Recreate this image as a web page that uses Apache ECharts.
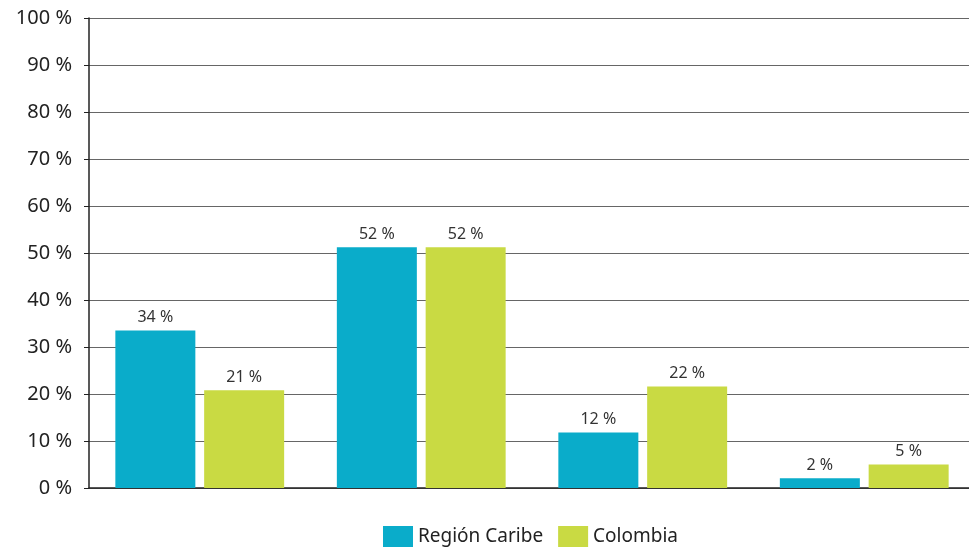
<!DOCTYPE html>
<html>
<head>
<meta charset="utf-8">
<script src="https://cdn.jsdelivr.net/npm/echarts@6/dist/echarts.min.js"></script>
<style>
html,body{margin:0;padding:0;background:#fff;}
#chart{width:969px;height:547px;}
</style>
</head>
<body>
<div id="chart"></div>
<script>
var categories = ['A', 'B', 'C', 'D'];
var caribeValues = [33.5, 51.2, 11.8, 2.1];
var colombiaValues = [20.8, 51.2, 21.6, 5.0];
var caribeLabels = ['34 %', '52 %', '12 %', '2 %'];
var colombiaLabels = ['21 %', '52 %', '22 %', '5 %'];
var yTicks = [0, 100, 10];

var chart = echarts.init(document.getElementById('chart'));
var font = '"Noto Sans", "Open Sans", sans-serif';
chart.setOption({
  animation: false,
  textStyle: {fontFamily: font},
  grid: {left: 89, top: 18, bottom: 59, right: -6, containLabel: false, outerBoundsMode: 'none'},
  legend: {
    data: ['Región Caribe', 'Colombia'],
    left: 383, top: 526, padding: 0,
    itemWidth: 30, itemHeight: 22, itemGap: 15,
    icon: 'rect',
    textStyle: {fontSize: 19, color: '#222', fontFamily: font}
  },
  xAxis: {
    type: 'category',
    data: categories,
    axisLine: {lineStyle: {color: '#222', width: 1.5}},
    axisTick: {inside: true, length: 11, lineStyle: {color: '#222'}},
    axisLabel: {show: false}
  },
  yAxis: {
    type: 'value',
    min: yTicks[0], max: yTicks[1], interval: yTicks[2],
    axisLine: {show: true, lineStyle: {color: '#222', width: 1.5}},
    axisTick: {show: true, length: 5, lineStyle: {color: '#222'}},
    axisLabel: {formatter: '{value} %', fontSize: 20, color: '#222', margin: 17, fontFamily: font},
    splitLine: {lineStyle: {color: '#666', width: 1.2}}
  },
  series: [
    {
      name: 'Región Caribe', type: 'bar', data: caribeValues,
      barWidth: 80, barGap: '11%',
      itemStyle: {color: '#0aacca'},
      label: {show: true, position: 'top', distance: 5, fontSize: 16, color: '#333', fontFamily: font,
        formatter: function(p){ return caribeLabels[p.dataIndex]; }}
    },
    {
      name: 'Colombia', type: 'bar', data: colombiaValues,
      barWidth: 80, barGap: '11%',
      itemStyle: {color: '#c9da43'},
      label: {show: true, position: 'top', distance: 5, fontSize: 16, color: '#333', fontFamily: font,
        formatter: function(p){ return colombiaLabels[p.dataIndex]; }}
    }
  ]
});
</script>
</body>
</html>
